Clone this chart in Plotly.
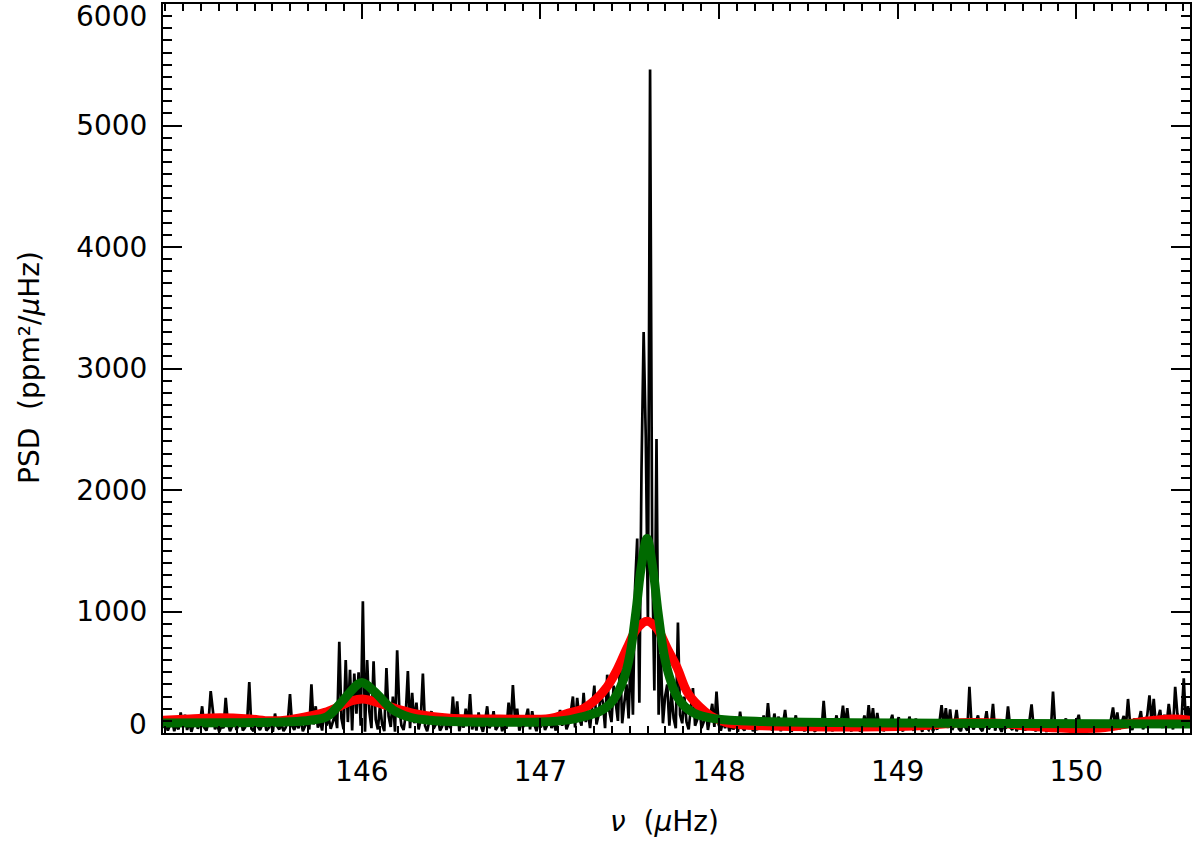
import numpy as np
import plotly.graph_objects as go

# Spectre de puissance (PSD en ppm^2/uHz), pas de 0.012 uHz a partir de 144.89 uHz
freq_start = 144.89
freq_step = 0.012
psd = [
    40, 85, 20, 60, 110, 15, 70, 30, 170, 55, 150, 25, 90, 10, 65, 130, 35, 80, 220, 45,
    20, 95, 345, 160, 30, 75, 10, 60, 40, 290, 85, 15, 55, 150, 25, 70, 140, 20, 45, 90,
    420, 35, 15, 80, 50, 25, 65, 110, 20, 40, 90, 10, 160, 55, 30, 75, 15, 45, 100, 320,
    60, 25, 85, 40, 120, 15, 55, 90, 30, 400, 70, 220, 45, 100, 20, 200, 60, 130, 35, 95,
    150, 40, 750, 120, 30, 600, 90, 520, 20, 490, 160, 500, 60, 1085, 10, 600, 180, 40, 590, 110,
    30, 230, 70, 15, 535, 140, 50, 300, 10, 680, 200, 60, 25, 150, 510, 40, 330, 80, 250, 30,
    110, 490, 60, 15, 90, 180, 35, 70, 120, 20, 55, 150, 25, 85, 40, 300, 60, 260, 15, 100,
    45, 200, 70, 320, 30, 110, 20, 170, 65, 10, 95, 220, 40, 75, 180, 25, 55, 130, 15, 80,
    35, 250, 60, 395, 110, 200, 20, 85, 50, 140, 200, 30, 180, 70, 15, 95, 45, 120, 25, 65,
    140, 40, 90, 20, 110, 190, 60, 150, 30, 80, 170, 300, 45, 290, 120, 60, 330, 90, 180, 40,
    220, 390, 70, 150, 330, 250, 40, 480, 180, 90, 390, 260, 100, 600, 80, 250, 400, 120, 700, 150,
    1200, 1600, 250, 2160, 3300, 2430, 900, 5460, 1430, 350, 2420, 150, 650, 80, 300, 400, 60, 330, 120, 40,
    910, 150, 80, 300, 90, 30, 180, 370, 60, 110, 230, 40, 90, 200, 25, 120, 240, 50, 340, 70,
    20, 95, 40, 110, 15, 60, 30, 85, 10, 175, 45, 20, 70, 35, 90, 15, 55, 25, 80, 40,
    145, 30, 245, 60, 20, 160, 45, 135, 15, 70, 190, 35, 90, 10, 55, 145, 25, 80, 40, 15,
    65, 20, 90, 35, 10, 120, 50, 25, 265, 40, 70, 115, 15, 55, 145, 30, 85, 225, 60, 205,
    40, 15, 75, 25, 95, 10, 50, 145, 35, 230, 60, 205, 20, 165, 45, 80, 15, 60, 30, 90,
    150, 25, 70, 130, 40, 15, 85, 30, 135, 55, 20, 120, 35, 65, 10, 90, 45, 25, 75, 15,
    55, 30, 85, 230, 60, 205, 40, 195, 25, 70, 190, 35, 15, 95, 50, 20, 380, 65, 30, 90,
    145, 40, 15, 75, 180, 30, 60, 240, 20, 85, 45, 10, 70, 35, 220, 50, 25, 95, 15, 60,
    30, 80, 20, 55, 100, 235, 40, 15, 70, 30, 90, 45, 10, 65, 25, 340, 55, 20, 85, 35,
    60, 120, 15, 75, 40, 20, 95, 150, 30, 55, 10, 80, 45, 25, 70, 15, 100, 35, 60, 20,
    85, 40, 110, 210, 60, 170, 30, 90, 140, 50, 280, 70, 25, 120, 45, 95, 180, 30, 75, 150,
    310, 90, 280, 60, 130, 190, 40, 150, 70, 240, 110, 30, 380, 160, 60, 120, 450, 80, 220, 100,
]

# Ajustement rouge
red_freq = [144.887, 145.038, 145.206, 145.374, 145.486, 145.598, 145.710, 145.805, 145.878,
            145.945, 146.001, 146.057, 146.130, 146.214, 146.326, 146.494, 146.774, 147.054,
            147.149, 147.239, 147.306, 147.373, 147.429, 147.485, 147.541, 147.597, 147.653,
            147.709, 147.765, 147.821, 147.888, 147.955, 148.034, 148.146, 148.286, 148.733,
            149.125, 149.349, 149.573, 149.741, 149.965, 150.161, 150.329, 150.542, 150.637]
red_psd = [105, 115, 125, 115, 100, 110, 140, 175, 220,
           265, 280, 265, 230, 190, 150, 122, 115, 120,
           160, 200, 270, 380, 520, 700, 860, 920, 860,
           700, 540, 340, 220, 140, 90, 65, 58, 50,
           60, 85, 80, 55, 38, 45, 85, 115, 105]

# Ajustement vert
green_freq = [144.887, 145.262, 145.598, 145.710, 145.805, 145.878, 145.934, 145.973, 146.001,
              146.029, 146.085, 146.175, 146.270, 146.382, 146.550, 146.774, 146.998, 147.166,
              147.239, 147.334, 147.390, 147.429, 147.468, 147.502, 147.535, 147.563, 147.597,
              147.630, 147.658, 147.692, 147.725, 147.765, 147.810, 147.866, 147.950, 148.062,
              148.230, 148.733, 149.573, 150.637]
green_psd = [82, 84, 92, 105, 135, 240, 335, 395, 415,
             395, 320, 190, 130, 105, 92, 89, 90, 110,
             135, 180, 240, 320, 450, 650, 1000, 1350, 1600,
             1350, 1000, 650, 450, 300, 215, 160, 125, 105,
             95, 85, 78, 75]

x_ticks = [146, 147, 148, 149, 150]
y_ticks = [0, 1000, 2000, 3000, 4000, 5000, 6000]
y_ticktext = ["", "1000", "2000", "3000", "4000", "5000", ""]

freq = freq_start + freq_step * np.arange(len(psd))

font_name = "DejaVu Sans"
tick_font = dict(family=font_name, size=28, color="black")

fig = go.Figure()
fig.add_trace(go.Scatter(x=freq, y=psd, mode="lines",
                         line=dict(color="black", width=2.7), showlegend=False))
fig.add_trace(go.Scatter(x=red_freq, y=red_psd, mode="lines",
                         line=dict(color="#ff0000", width=9, shape="spline"), showlegend=False))
fig.add_trace(go.Scatter(x=green_freq, y=green_psd, mode="lines",
                         line=dict(color="#006a00", width=9, shape="spline"), showlegend=False))

axis_common = dict(showline=True, linecolor="black", linewidth=2, mirror="ticks",
                   ticks="inside", tickwidth=2, tickcolor="black", showgrid=False,
                   zeroline=False, automargin=False, tickfont=tick_font)

fig.update_xaxes(range=[144.887, 150.637], tickmode="array", tickvals=x_ticks,
                 ticklen=15, ticklabelstandoff=12,
                 minor=dict(dtick=0.1, ticks="inside", ticklen=7, tickwidth=2, tickcolor="black"),
                 **axis_common)
fig.update_yaxes(range=[0, 6000], tickmode="array", tickvals=y_ticks, ticktext=y_ticktext,
                 ticklen=19, ticklabelstandoff=8,
                 minor=dict(dtick=100, ticks="inside", ticklen=9, tickwidth=2, tickcolor="black"),
                 **axis_common)

# les libelles extremes (0 et 6000) sont decales vers l'interieur comme sur l'original
end_labels = [
    dict(text="0", xref="paper", yref="y", x=0, y=0, xanchor="right", yanchor="middle",
         xshift=-14, yshift=9, showarrow=False, font=tick_font),
    dict(text="6000", xref="paper", yref="y", x=0, y=6000, xanchor="right", yanchor="middle",
         xshift=-14, yshift=-12, showarrow=False, font=tick_font),
]

fig.update_layout(
    width=1200, height=842,
    margin=dict(l=163, r=10, t=4, b=109),
    paper_bgcolor="white", plot_bgcolor="white",
    font=dict(family=font_name, color="black"),
    annotations=end_labels + [
        dict(text="<i>ν</i>  (<i>μ</i>Hz)", xref="paper", yref="paper", x=0.4888, y=-0.122,
             xanchor="center", yanchor="middle", showarrow=False,
             font=dict(family=font_name, size=28, color="black")),
        dict(text="PSD  (ppm²/<i>μ</i>Hz)", xref="paper", yref="paper", x=-0.1295, y=0.5007,
             xanchor="center", yanchor="middle", textangle=-90, showarrow=False,
             font=dict(family=font_name, size=28, color="black")),
    ],
)

# pas de marge autour de la page pour garder la figure calee en haut a gauche
fig.write_html("out.html", config={"displayModeBar": False},
               post_script="document.body.style.margin='0px';")
